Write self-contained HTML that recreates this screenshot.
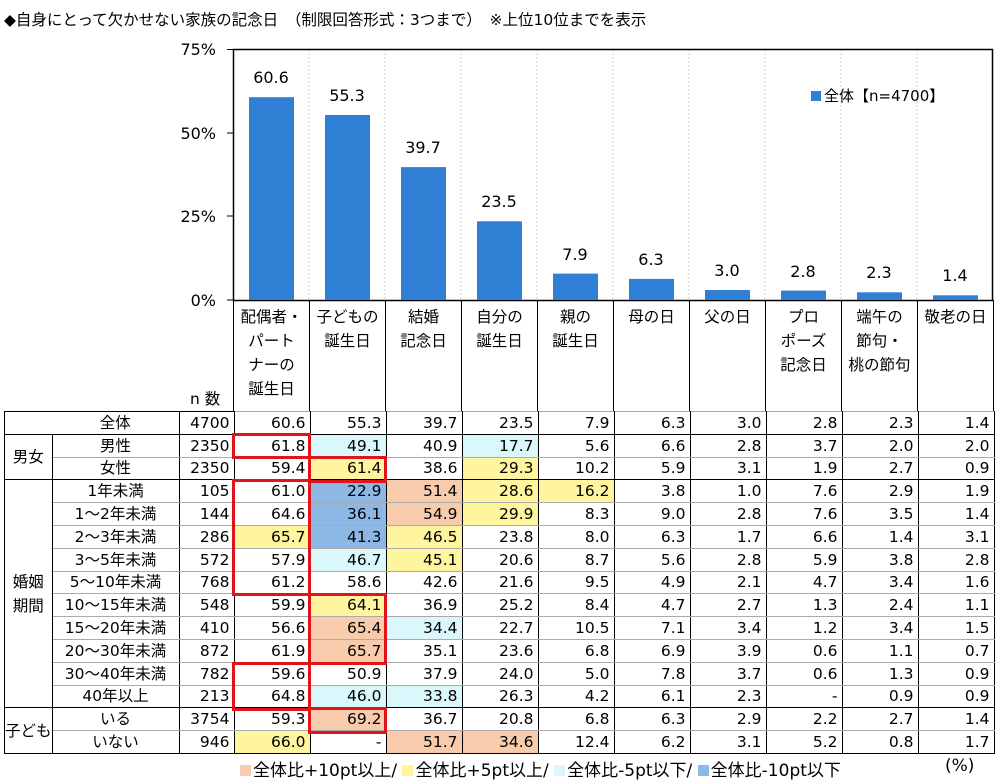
<!DOCTYPE html>
<html><head><meta charset="utf-8">
<style>
body{margin:0;width:1000px;height:780px;background:#fff;font-family:"DejaVu Sans","Noto Sans CJK JP",sans-serif;color:#000;position:relative;overflow:hidden}
.t{position:absolute;left:4px;top:8px;font-size:15.5px;white-space:pre}
table{position:absolute;left:4px;top:411px;border-collapse:collapse;table-layout:fixed;font-size:15.5px}
td{border-left:1px solid #000;border-right:1px solid #000;border-top:1px solid #aaa;border-bottom:1px solid #aaa;height:21.8px;padding:0 4px 0 0;text-align:right;line-height:20px;white-space:nowrap}
td.l{text-align:center;padding:0}
tr.b td{border-bottom:1px solid #000}
.o{background:#F8CBAD}.y{background:#FFF59E}.c{background:#DAF7FC}.u{background:#8DB8E6}
.hd{position:absolute;top:300px;height:111px;border-left:1px solid #000;font-size:15.5px;line-height:24px;text-align:center;padding-top:5px;box-sizing:border-box}
.rb{position:absolute;border:3px solid #e0151b;box-sizing:border-box}
.lg{position:absolute;top:756px;font-size:17px;white-space:pre}
.sq{display:inline-block;width:11px;height:11px;margin-right:2px}
</style></head><body>
<div class="t">◆自身にとって欠かせない家族の記念日　（制限回答形式：3つまで）　※上位10位までを表示</div>
<div class="hd" style="left:233px;width:76px">配偶者・<br>パート<br>ナーの<br>誕生日</div>
<div class="hd" style="left:309px;width:76px">子どもの<br>誕生日</div>
<div class="hd" style="left:385px;width:76px">結婚<br>記念日</div>
<div class="hd" style="left:461px;width:76px">自分の<br>誕生日</div>
<div class="hd" style="left:537px;width:76px">親の<br>誕生日</div>
<div class="hd" style="left:613px;width:76px">母の日</div>
<div class="hd" style="left:689px;width:76px">父の日</div>
<div class="hd" style="left:765px;width:76px">プロ<br>ポーズ<br>記念日</div>
<div class="hd" style="left:841px;width:76px">端午の<br>節句・<br>桃の節句</div>
<div class="hd" style="left:917px;width:77px;border-right:1px solid #000">敬老の日</div>
<svg style="position:absolute;left:0;top:0" width="1000" height="312">
<g stroke="#ccc" stroke-dasharray="2,2">
<line x1="309" y1="49" x2="309" y2="300"/><line x1="385" y1="49" x2="385" y2="300"/><line x1="461" y1="49" x2="461" y2="300"/><line x1="537" y1="49" x2="537" y2="300"/><line x1="613" y1="49" x2="613" y2="300"/><line x1="689" y1="49" x2="689" y2="300"/><line x1="765" y1="49" x2="765" y2="300"/><line x1="841" y1="49" x2="841" y2="300"/><line x1="917" y1="49" x2="917" y2="300"/>
</g>
<rect x="233.5" y="49.5" width="759" height="251" fill="none" stroke="#000" stroke-width="1.5"/>
<g stroke="#000"><line x1="227" y1="133" x2="233" y2="133"/><line x1="227" y1="216" x2="233" y2="216"/><line x1="227" y1="49.5" x2="233" y2="49.5"/><line x1="227" y1="300" x2="233" y2="300"/></g>
<g font-size="16" text-anchor="end"><text x="216" y="55">75%</text><text x="216" y="139">50%</text><text x="216" y="222">25%</text><text x="216" y="306">0%</text></g>
<g fill="#2F80D4">
<rect x="249" y="97.2" width="45" height="202.8"/><rect x="325" y="115" width="45" height="185"/><rect x="401" y="167.1" width="45" height="132.9"/><rect x="477" y="221.3" width="45" height="78.7"/><rect x="553" y="273.6" width="45" height="26.4"/><rect x="629" y="278.9" width="45" height="21.1"/><rect x="705" y="290" width="45" height="10"/><rect x="781" y="290.6" width="45" height="9.4"/><rect x="857" y="292.3" width="45" height="7.7"/><rect x="933" y="295.3" width="45" height="4.7"/>
</g>
<g font-size="16" text-anchor="middle">
<text x="271" y="83">60.6</text><text x="347" y="101">55.3</text><text x="423" y="153">39.7</text><text x="499" y="207">23.5</text><text x="575" y="260">7.9</text><text x="651" y="265">6.3</text><text x="727" y="276">3.0</text><text x="803" y="277">2.8</text><text x="879" y="278">2.3</text><text x="955" y="281">1.4</text>
</g>
<rect x="811" y="91" width="10" height="10" fill="#2F80D4"/>
<text x="824" y="101" font-size="15">全体【n=4700】</text>
</svg>
<div style="position:absolute;left:190px;top:387px;font-size:15.5px">n 数</div>
<table>
<colgroup><col style="width:47px"><col style="width:127px"><col style="width:55px"><col style="width:76px"><col style="width:76px"><col style="width:76px"><col style="width:76px"><col style="width:76px"><col style="width:76px"><col style="width:76px"><col style="width:76px"><col style="width:76px"><col style="width:76px"></colgroup>
<tr class="b"><td class="l" colspan="2" style="padding-left:47px;border-top:1px solid #000">全体</td><td style="border-top:1px solid #000">4700</td><td>60.6</td><td>55.3</td><td>39.7</td><td>23.5</td><td>7.9</td><td>6.3</td><td>3.0</td><td>2.8</td><td>2.3</td><td>1.4</td></tr>
<tr><td class="l" rowspan="2" style="border-bottom:1px solid #000">男女</td><td class="l">男性</td><td>2350</td><td>61.8</td><td class="c">49.1</td><td>40.9</td><td class="c">17.7</td><td>5.6</td><td>6.6</td><td>2.8</td><td>3.7</td><td>2.0</td><td>2.0</td></tr>
<tr class="b"><td class="l">女性</td><td>2350</td><td>59.4</td><td class="y">61.4</td><td>38.6</td><td class="y">29.3</td><td>10.2</td><td>5.9</td><td>3.1</td><td>1.9</td><td>2.7</td><td>0.9</td></tr>
<tr><td class="l" rowspan="10" style="border-bottom:1px solid #000;line-height:24px">婚姻<br>期間</td><td class="l">1年未満</td><td>105</td><td>61.0</td><td class="u">22.9</td><td class="o">51.4</td><td class="y">28.6</td><td class="y">16.2</td><td>3.8</td><td>1.0</td><td>7.6</td><td>2.9</td><td>1.9</td></tr>
<tr><td class="l">1～2年未満</td><td>144</td><td>64.6</td><td class="u">36.1</td><td class="o">54.9</td><td class="y">29.9</td><td>8.3</td><td>9.0</td><td>2.8</td><td>7.6</td><td>3.5</td><td>1.4</td></tr>
<tr><td class="l">2～3年未満</td><td>286</td><td class="y">65.7</td><td class="u">41.3</td><td class="y">46.5</td><td>23.8</td><td>8.0</td><td>6.3</td><td>1.7</td><td>6.6</td><td>1.4</td><td>3.1</td></tr>
<tr><td class="l">3～5年未満</td><td>572</td><td>57.9</td><td class="c">46.7</td><td class="y">45.1</td><td>20.6</td><td>8.7</td><td>5.6</td><td>2.8</td><td>5.9</td><td>3.8</td><td>2.8</td></tr>
<tr><td class="l">5～10年未満</td><td>768</td><td>61.2</td><td>58.6</td><td>42.6</td><td>21.6</td><td>9.5</td><td>4.9</td><td>2.1</td><td>4.7</td><td>3.4</td><td>1.6</td></tr>
<tr><td class="l">10～15年未満</td><td>548</td><td>59.9</td><td class="y">64.1</td><td>36.9</td><td>25.2</td><td>8.4</td><td>4.7</td><td>2.7</td><td>1.3</td><td>2.4</td><td>1.1</td></tr>
<tr><td class="l">15～20年未満</td><td>410</td><td>56.6</td><td class="o">65.4</td><td class="c">34.4</td><td>22.7</td><td>10.5</td><td>7.1</td><td>3.4</td><td>1.2</td><td>3.4</td><td>1.5</td></tr>
<tr><td class="l">20～30年未満</td><td>872</td><td>61.9</td><td class="o">65.7</td><td>35.1</td><td>23.6</td><td>6.8</td><td>6.9</td><td>3.9</td><td>0.6</td><td>1.1</td><td>0.7</td></tr>
<tr><td class="l">30～40年未満</td><td>782</td><td>59.6</td><td>50.9</td><td>37.9</td><td>24.0</td><td>5.0</td><td>7.8</td><td>3.7</td><td>0.6</td><td>1.3</td><td>0.9</td></tr>
<tr class="b"><td class="l">40年以上</td><td>213</td><td>64.8</td><td class="c">46.0</td><td class="c">33.8</td><td>26.3</td><td>4.2</td><td>6.1</td><td>2.3</td><td>-</td><td>0.9</td><td>0.9</td></tr>
<tr><td class="l" rowspan="2" style="border-bottom:1px solid #000">子ども</td><td class="l">いる</td><td>3754</td><td>59.3</td><td class="o">69.2</td><td>36.7</td><td>20.8</td><td>6.8</td><td>6.3</td><td>2.9</td><td>2.2</td><td>2.7</td><td>1.4</td></tr>
<tr class="b"><td class="l">いない</td><td>946</td><td class="y">66.0</td><td>-</td><td class="o">51.7</td><td class="o">34.6</td><td>12.4</td><td>6.2</td><td>3.1</td><td>5.2</td><td>0.8</td><td>1.7</td></tr>
</table>
<div class="rb" style="left:232px;top:433px;width:79px;height:26px"></div>
<div class="rb" style="left:308px;top:456px;width:79px;height:27px"></div>
<div class="rb" style="left:232px;top:479px;width:79px;height:117px"></div>
<div class="rb" style="left:308px;top:593px;width:79px;height:72px"></div>
<div class="rb" style="left:232px;top:662px;width:79px;height:49px"></div>
<div class="rb" style="left:308px;top:707px;width:79px;height:27px"></div>
<div class="lg" style="left:240px"><span class="sq o"></span>全体比+10pt以上/ <span class="sq y"></span>全体比+5pt以上/ <span class="sq c"></span>全体比-5pt以下/ <span class="sq u"></span>全体比-10pt以下</div>
<div class="lg" style="left:945px">(%)</div>
</body></html>
